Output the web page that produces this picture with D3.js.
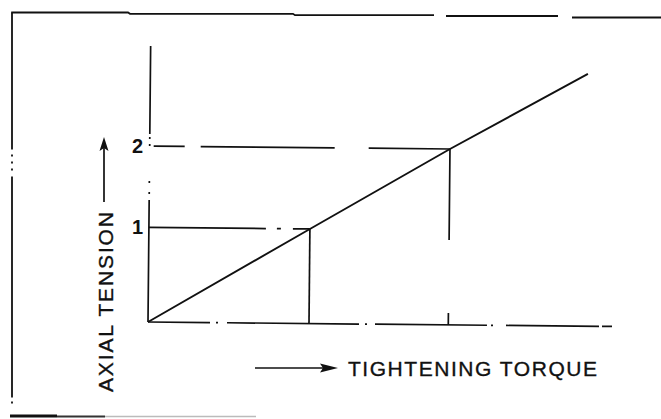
<!DOCTYPE html>
<html>
<head>
<meta charset="utf-8">
<script src="https://cdn.jsdelivr.net/npm/d3@7"></script>
<style>
  html, body { margin: 0; padding: 0; background: #fff; }
  svg { display: block; }
  text { font-family: "Liberation Sans", Arial, sans-serif; fill: #111; }
</style>
</head>
<body>
<svg id="chart" width="661" height="419"></svg>
<script>
// ---- data ----
const scaleBreaks = [0, 1, 2];            // reference values on both axes
const tickValues = [1, 2];                 // y tick labels shown
const tickLabels = ["1", "2"];
const lineTorque = [0, 1, 2, 2.985];       // straight line: torque values
const lineTension = [0, 1, 2, 2.94];       // straight line: tension values
const guidePoints = [1, 2];                // points marked with projections
const axisEndTorque = 3.18;
const axisEndTension = 3.24;
const xLabel = "TIGHTENING TORQUE";
const yLabel = "AXIAL TENSION";

// ---- layout ----
const svg = d3.select("#chart");
const ink = "#111";

const x = d3.scaleLinear().domain(scaleBreaks).range([148, 309, 448.3]);
const y = d3.scaleLinear().domain(scaleBreaks).range([322, 227.4, 146.1]);

// scanned frame (decoration)
const frame = svg.append("g").attr("stroke", ink).attr("fill", "none");
frame.append("path").attr("stroke-width", 1.8)
  .attr("d", "M11.2,12.5 L128,12.5 L130,13.8 L293,13.8 L295,15.2 L434,15.2 M446,16 L558,16 M572,17.5 L661,17.5");
frame.append("path").attr("stroke-width", 1.8)
  .attr("d", "M12,12.5 L12,407")
  .attr("stroke-dasharray", "137 5 2 5 2 5 2 6 221 4 2 4 2");
frame.append("path").attr("stroke-width", 3).attr("d", "M10,416 L57,416");
frame.append("path").attr("stroke-width", 1.8).attr("stroke", "#333").attr("d", "M57,416.5 L105,416.5");
frame.append("path").attr("stroke-width", 1.4).attr("stroke", "#bbb").attr("d", "M105,416.5 L256,416.5");

// plot group, slightly rotated as in the scan
const g = svg.append("g").attr("transform", "rotate(0.55,148,322)");
const line2 = d3.line().x(d => d[0]).y(d => d[1]);

// x axis (dash-dot as in the drawing)
g.append("path")
  .attr("d", line2([[x(0), y(0)], [x(axisEndTorque), y(0)]]))
  .attr("stroke", ink).attr("stroke-width", 1.7).attr("fill", "none")
  .attr("stroke-dasharray", "62 6 2 9 132 6 2 8 112 4 2 13 93 3 10");

// y axis
g.append("path")
  .attr("d", line2([[x(0), y(0)], [x(0), y(axisEndTension)]]))
  .attr("stroke", ink).attr("stroke-width", 1.7).attr("fill", "none")
  .attr("stroke-dasharray", "122 6 2 9 2 35 2 5 2 3 88");

// guide lines for point 1
g.append("path")
  .attr("d", line2([[x(0), y(guidePoints[0])], [x(guidePoints[0]), y(guidePoints[0])]]))
  .attr("stroke", ink).attr("stroke-width", 1.7).attr("fill", "none")
  .attr("stroke-dasharray", "117 11 4 12 40");
g.append("path")
  .attr("d", line2([[x(guidePoints[0]), y(guidePoints[0])], [x(guidePoints[0]), y(0)]]))
  .attr("stroke", ink).attr("stroke-width", 1.7).attr("fill", "none");

// guide lines for point 2
g.append("path")
  .attr("d", line2([[x(0) + 4, y(guidePoints[1])], [x(guidePoints[1]), y(guidePoints[1])]]))
  .attr("stroke", ink).attr("stroke-width", 1.7).attr("fill", "none")
  .attr("stroke-dasharray", "31 16 134 34 90");
g.append("path")
  .attr("d", line2([[x(guidePoints[1]), y(guidePoints[1])], [x(guidePoints[1]), y(0)]]))
  .attr("stroke", ink).attr("stroke-width", 1.7).attr("fill", "none")
  .attr("stroke-dasharray", "91 73 20");

// main line
const lineData = lineTorque.map((t, i) => [t, lineTension[i]]);
g.append("path")
  .datum(lineData)
  .attr("d", d3.line().x(d => x(d[0])).y(d => y(d[1])))
  .attr("stroke", ink).attr("stroke-width", 1.9).attr("fill", "none");

// y tick labels via d3 axis
const yAxis = d3.axisLeft(y).tickValues(tickValues).tickSize(0).tickPadding(5)
  .tickFormat((d, i) => tickLabels[i]);
const ya = svg.append("g").attr("transform", "translate(" + x(0) + ",0)").call(yAxis);
ya.select(".domain").remove();
ya.selectAll("text")
  .attr("font-family", "Liberation Sans, Arial, sans-serif")
  .attr("font-size", 20).attr("font-weight", "bold").attr("fill", ink);

// x label with arrow
svg.append("line").attr("x1", 255).attr("x2", 324).attr("y1", 368).attr("y2", 368)
  .attr("stroke", ink).attr("stroke-width", 1.7);
svg.append("path").attr("d", "M320,363.5 L338,368 L320,372.5 L323,368 Z").attr("fill", ink);
svg.append("text").attr("x", 348).attr("y", 376)
  .attr("font-size", 21).attr("textLength", 249).attr("lengthAdjust", "spacing")
  .attr("stroke", ink).attr("stroke-width", 0.35)
  .text(xLabel);

// y label with arrow
svg.append("line").attr("x1", 104).attr("x2", 104).attr("y1", 202).attr("y2", 146)
  .attr("stroke", ink).attr("stroke-width", 1.7);
svg.append("path").attr("d", "M99.5,151 L104,137 L108.5,151 L104,148 Z").attr("fill", ink);
svg.append("text").attr("transform", "translate(113,392) rotate(-90)")
  .attr("font-size", 21).attr("textLength", 180).attr("lengthAdjust", "spacing")
  .attr("stroke", ink).attr("stroke-width", 0.35)
  .text(yLabel);
</script>
</body>
</html>
